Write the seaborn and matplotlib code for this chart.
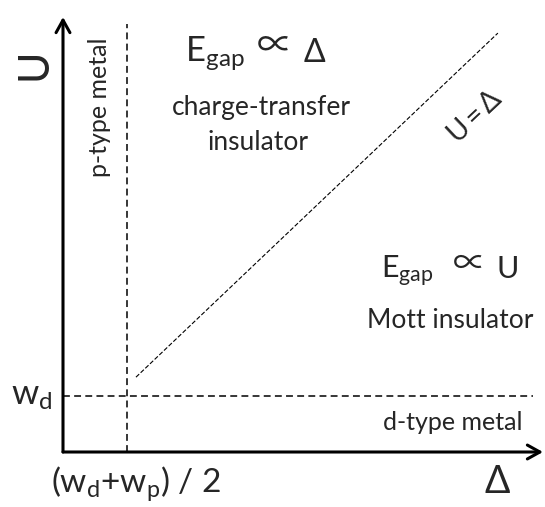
import matplotlib
matplotlib.use("Agg")
import matplotlib.pyplot as plt
import seaborn as sns

# phase boundaries of the ZSA diagram (arbitrary units, axes run 0..10)
delta_axis_end = 10.0
u_axis_end = 10.0
delta_metal = 1.33          # (w_d + w_p) / 2
w_d_level = 1.29            # w_d
p_metal_top = 9.84
d_metal_right = 9.79
diag_delta = [1.52, 9.06]   # U = Delta line
diag_u = [1.72, 9.63]

sns.set_style("white")
plt.rcParams["font.family"] = ["Lato", "DejaVu Sans"]
plt.rcParams["mathtext.fontset"] = "custom"
plt.rcParams["mathtext.rm"] = "Lato"
plt.rcParams["mathtext.it"] = "Lato:italic"
plt.rcParams["mathtext.bf"] = "Lato:bold"
FAM = ["Lato", "DejaVu Sans"]
PROP = ["Noto Sans CJK SC", "DejaVu Sans"]

fig = plt.figure(figsize=(5.45, 5.07), dpi=100)
ax = fig.add_axes([63 / 545, 55 / 507, 480 / 545, 435 / 507])
ax.set_xlim(0, delta_axis_end)
ax.set_ylim(0, u_axis_end)
ax.axis("off")

# axes with arrow heads
arrow = dict(arrowstyle="->,head_length=0.9,head_width=0.5", lw=2.2,
             color="black", shrinkA=0, shrinkB=0)
ax.annotate("", xy=(delta_axis_end, 0), xytext=(0, 0), arrowprops=arrow,
            annotation_clip=False)
ax.annotate("", xy=(0, u_axis_end), xytext=(0, 0), arrowprops=arrow,
            annotation_clip=False)

# boundaries
sns.lineplot(x=[delta_metal, delta_metal], y=[0, p_metal_top], ax=ax,
             estimator=None, sort=False, color="black", lw=1.1,
             linestyle=(0, (4.5, 2.8)))
sns.lineplot(x=[0, d_metal_right], y=[w_d_level, w_d_level], ax=ax,
             estimator=None, sort=False, color="black", lw=1.1,
             linestyle=(0, (4.5, 2.8)))
sns.lineplot(x=diag_delta, y=diag_u, ax=ax, estimator=None, sort=False,
             color="black", lw=0.8, linestyle=(0, (4, 1.8)))

# axis labels
ax.text(-0.60, 8.92, "U", rotation=90, fontsize=31, ha="center", va="center",
        family=FAM)
ax.text(9.04, -0.94, "Δ", fontsize=27, ha="center", va="baseline", family=FAM)
ax.text(-1.08, 1.08, r"$\mathrm{w}_{\mathrm{d}}$", fontsize=25, ha="left",
        va="baseline")
ax.text(1.53, -0.92, r"$(\mathrm{w}_{\mathrm{d}}{+}\mathrm{w}_{\mathrm{p}})\ /\ 2$",
        fontsize=24, ha="center", va="baseline")

# regions
ax.text(0.77, 7.93, "p-type metal", rotation=90, fontsize=18, ha="center",
        va="center", family=FAM)
ax.text(9.58, 0.51, "d-type metal", fontsize=18, ha="right", va="baseline",
        family=FAM)

ax.text(2.54, 8.97, r"$\mathrm{E}_{\mathrm{gap}}$", fontsize=25, ha="left",
        va="baseline")
ax.text(4.42, 9.33, "∝", fontsize=26, ha="center", va="center", family=PROP)
ax.text(5.24, 8.97, "Δ", fontsize=23, ha="center", va="baseline", family=FAM)
ax.text(4.125, 7.75, "charge-transfer", fontsize=19, ha="center",
        va="baseline", family=FAM)
ax.text(4.06, 6.94, "insulator", fontsize=19, ha="center", va="baseline",
        family=FAM)

ax.text(8.58, 7.70, "U\u2009=\u2009Δ", rotation=43.5, fontsize=20, ha="center",
        va="center", rotation_mode="anchor", family=FAM)

ax.text(6.62, 4.0, r"$\mathrm{E}_{\mathrm{gap}}$", fontsize=22, ha="left",
        va="baseline")
ax.text(8.46, 4.32, "∝", fontsize=24, ha="center", va="center", family=PROP)
ax.text(9.27, 4.0, "U", fontsize=22, ha="center", va="baseline", family=FAM)
ax.text(8.06, 2.85, "Mott insulator", fontsize=19, ha="center",
        va="baseline", family=FAM)

fig.savefig("out.png", dpi=100)
